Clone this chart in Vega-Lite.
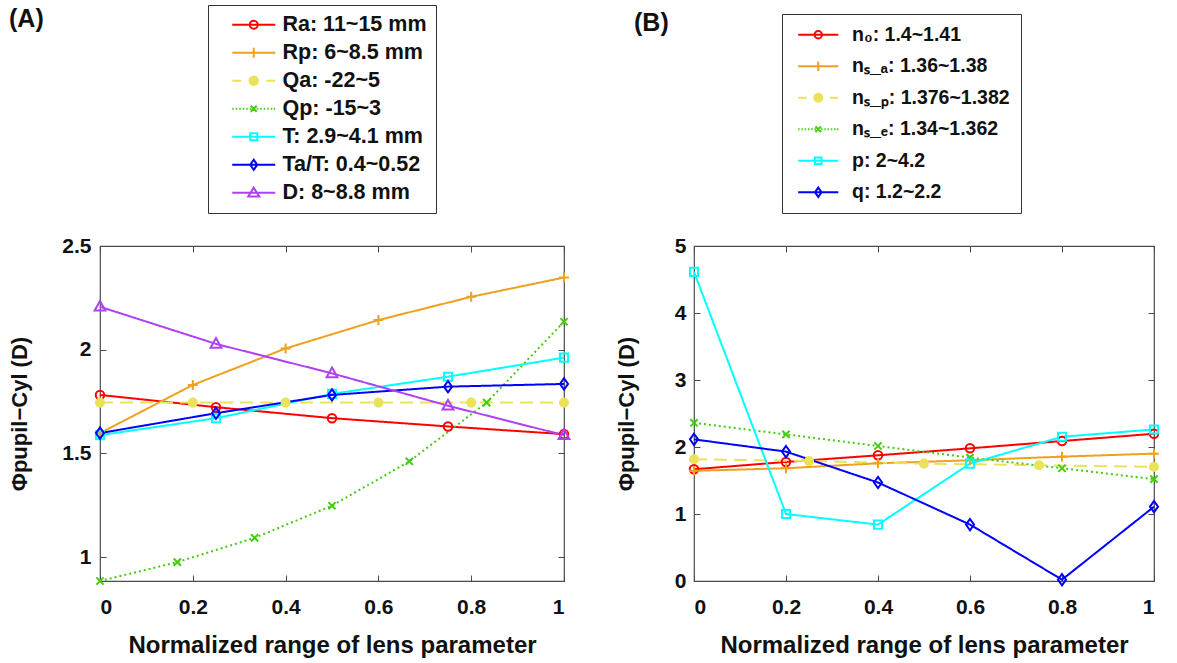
{
  "$schema": "https://vega.github.io/schema/vega-lite/v6.json",
  "background": "white",
  "padding": {"left": 8, "top": 3, "right": 5, "bottom": 5},
  "bounds": "flush",
  "spacing": 130,
  "config": {
    "font": "Liberation Sans",
    "view": {"stroke": "#4a4a4a", "strokeWidth": 1.2},
    "axis": {
      "labelFont": "Liberation Sans", "labelFontWeight": "bold", "labelFontSize": 21, "labelColor": "#111",
      "titleFont": "Liberation Sans", "titleFontWeight": "bold", "titleFontSize": 24, "titleColor": "#111",
      "grid": false, "domain": false, "tickSize": -6, "tickColor": "#4a4a4a", "tickWidth": 1
    }
  },
  "datasets": {
    "pts": [
      {"panel": "A", "series": "Ra: 11~15 mm", "x": 0, "y": 1.782},
      {"panel": "A", "series": "Ra: 11~15 mm", "x": 0.25, "y": 1.723},
      {"panel": "A", "series": "Ra: 11~15 mm", "x": 0.5, "y": 1.670},
      {"panel": "A", "series": "Ra: 11~15 mm", "x": 0.75, "y": 1.630},
      {"panel": "A", "series": "Ra: 11~15 mm", "x": 1, "y": 1.593},
      {"panel": "A", "series": "Rp: 6~8.5 mm", "x": 0, "y": 1.598},
      {"panel": "A", "series": "Rp: 6~8.5 mm", "x": 0.2, "y": 1.830},
      {"panel": "A", "series": "Rp: 6~8.5 mm", "x": 0.4, "y": 2.006},
      {"panel": "A", "series": "Rp: 6~8.5 mm", "x": 0.6, "y": 2.143},
      {"panel": "A", "series": "Rp: 6~8.5 mm", "x": 0.8, "y": 2.255},
      {"panel": "A", "series": "Rp: 6~8.5 mm", "x": 1, "y": 2.348},
      {"panel": "A", "series": "Qa: -22~5", "x": 0, "y": 1.745},
      {"panel": "A", "series": "Qa: -22~5", "x": 0.2, "y": 1.745},
      {"panel": "A", "series": "Qa: -22~5", "x": 0.4, "y": 1.745},
      {"panel": "A", "series": "Qa: -22~5", "x": 0.6, "y": 1.745},
      {"panel": "A", "series": "Qa: -22~5", "x": 0.8, "y": 1.745},
      {"panel": "A", "series": "Qa: -22~5", "x": 1, "y": 1.745},
      {"panel": "A", "series": "Qp: -15~3", "x": 0, "y": 0.885},
      {"panel": "A", "series": "Qp: -15~3", "x": 0.1667, "y": 0.976},
      {"panel": "A", "series": "Qp: -15~3", "x": 0.3333, "y": 1.093},
      {"panel": "A", "series": "Qp: -15~3", "x": 0.5, "y": 1.248},
      {"panel": "A", "series": "Qp: -15~3", "x": 0.6667, "y": 1.462},
      {"panel": "A", "series": "Qp: -15~3", "x": 0.8333, "y": 1.745},
      {"panel": "A", "series": "Qp: -15~3", "x": 1, "y": 2.135},
      {"panel": "A", "series": "T: 2.9~4.1 mm", "x": 0, "y": 1.588},
      {"panel": "A", "series": "T: 2.9~4.1 mm", "x": 0.25, "y": 1.670},
      {"panel": "A", "series": "T: 2.9~4.1 mm", "x": 0.5, "y": 1.787},
      {"panel": "A", "series": "T: 2.9~4.1 mm", "x": 0.75, "y": 1.870},
      {"panel": "A", "series": "T: 2.9~4.1 mm", "x": 1, "y": 1.962},
      {"panel": "A", "series": "Ta/T: 0.4~0.52", "x": 0, "y": 1.598},
      {"panel": "A", "series": "Ta/T: 0.4~0.52", "x": 0.25, "y": 1.694},
      {"panel": "A", "series": "Ta/T: 0.4~0.52", "x": 0.5, "y": 1.782},
      {"panel": "A", "series": "Ta/T: 0.4~0.52", "x": 0.75, "y": 1.822},
      {"panel": "A", "series": "Ta/T: 0.4~0.52", "x": 1, "y": 1.835},
      {"panel": "A", "series": "D: 8~8.8 mm", "x": 0, "y": 2.207},
      {"panel": "A", "series": "D: 8~8.8 mm", "x": 0.25, "y": 2.028},
      {"panel": "A", "series": "D: 8~8.8 mm", "x": 0.5, "y": 1.886},
      {"panel": "A", "series": "D: 8~8.8 mm", "x": 0.75, "y": 1.730},
      {"panel": "A", "series": "D: 8~8.8 mm", "x": 1, "y": 1.588},
      {"panel": "B", "series": "n₀: 1.4~1.41", "x": 0, "y": 1.668},
      {"panel": "B", "series": "n₀: 1.4~1.41", "x": 0.2, "y": 1.777},
      {"panel": "B", "series": "n₀: 1.4~1.41", "x": 0.4, "y": 1.876},
      {"panel": "B", "series": "n₀: 1.4~1.41", "x": 0.6, "y": 1.980},
      {"panel": "B", "series": "n₀: 1.4~1.41", "x": 0.8, "y": 2.089},
      {"panel": "B", "series": "n₀: 1.4~1.41", "x": 1, "y": 2.198},
      {"panel": "B", "series": "nₛ_ₐ: 1.36~1.38", "x": 0, "y": 1.644},
      {"panel": "B", "series": "nₛ_ₐ: 1.36~1.38", "x": 0.2, "y": 1.683},
      {"panel": "B", "series": "nₛ_ₐ: 1.36~1.38", "x": 0.4, "y": 1.757},
      {"panel": "B", "series": "nₛ_ₐ: 1.36~1.38", "x": 0.6, "y": 1.802},
      {"panel": "B", "series": "nₛ_ₐ: 1.36~1.38", "x": 0.8, "y": 1.856},
      {"panel": "B", "series": "nₛ_ₐ: 1.36~1.38", "x": 1, "y": 1.901},
      {"panel": "B", "series": "nₛ_ₚ: 1.376~1.382", "x": 0, "y": 1.817},
      {"panel": "B", "series": "nₛ_ₚ: 1.376~1.382", "x": 0.25, "y": 1.790},
      {"panel": "B", "series": "nₛ_ₚ: 1.376~1.382", "x": 0.5, "y": 1.752},
      {"panel": "B", "series": "nₛ_ₚ: 1.376~1.382", "x": 0.75, "y": 1.728},
      {"panel": "B", "series": "nₛ_ₚ: 1.376~1.382", "x": 1, "y": 1.703},
      {"panel": "B", "series": "nₛ_ₑ: 1.34~1.362", "x": 0, "y": 2.361},
      {"panel": "B", "series": "nₛ_ₑ: 1.34~1.362", "x": 0.2, "y": 2.188},
      {"panel": "B", "series": "nₛ_ₑ: 1.34~1.362", "x": 0.4, "y": 2.015},
      {"panel": "B", "series": "nₛ_ₑ: 1.34~1.362", "x": 0.6, "y": 1.842},
      {"panel": "B", "series": "nₛ_ₑ: 1.34~1.362", "x": 0.8, "y": 1.683},
      {"panel": "B", "series": "nₛ_ₑ: 1.34~1.362", "x": 1, "y": 1.520},
      {"panel": "B", "series": "p: 2~4.2", "x": 0, "y": 4.614},
      {"panel": "B", "series": "p: 2~4.2", "x": 0.2, "y": 1.0},
      {"panel": "B", "series": "p: 2~4.2", "x": 0.4, "y": 0.842},
      {"panel": "B", "series": "p: 2~4.2", "x": 0.6, "y": 1.752},
      {"panel": "B", "series": "p: 2~4.2", "x": 0.8, "y": 2.153},
      {"panel": "B", "series": "p: 2~4.2", "x": 1, "y": 2.262},
      {"panel": "B", "series": "q: 1.2~2.2", "x": 0, "y": 2.114},
      {"panel": "B", "series": "q: 1.2~2.2", "x": 0.2, "y": 1.931},
      {"panel": "B", "series": "q: 1.2~2.2", "x": 0.4, "y": 1.470},
      {"panel": "B", "series": "q: 1.2~2.2", "x": 0.6, "y": 0.842},
      {"panel": "B", "series": "q: 1.2~2.2", "x": 0.8, "y": 0.02},
      {"panel": "B", "series": "q: 1.2~2.2", "x": 1, "y": 1.109}
    ]
  },
  "hconcat": [
    {
      "width": 464, "height": 335,
      "title": {"text": "(A)", "anchor": "start", "frame": "group", "dx": -91, "dy": 31, "fontSize": 25, "font": "Liberation Sans", "fontWeight": "bold", "color": "#111"},
      "data": {"name": "pts"},
      "transform": [{"filter": "datum.panel === 'A'"}],
      "layer": [
        {
          "mark": {"type": "line", "strokeWidth": 2},
          "encoding": {
            "x": {"field": "x", "type": "quantitative", "scale": {"domain": [0, 1], "nice": false},
                  "axis": {"orient": "bottom", "values": [0, 0.2, 0.4, 0.6, 0.8, 1], "format": "~g", "labelPadding": 21, "title": "Normalized range of lens parameter", "titlePadding": 16}},
            "y": {"field": "y", "type": "quantitative", "scale": {"domain": [0.885, 2.5], "nice": false, "zero": false},
                  "axis": {"orient": "left", "values": [1, 1.5, 2, 2.5], "format": "~g", "labelPadding": 15, "title": "Φpupil−Cyl (D)", "titlePadding": 30, "titleFontSize": 22}},
            "stroke": {"field": "series", "type": "nominal", "legend": null,
                       "scale": {"domain": ["Ra: 11~15 mm", "Rp: 6~8.5 mm", "Qa: -22~5", "Qp: -15~3", "T: 2.9~4.1 mm", "Ta/T: 0.4~0.52", "D: 8~8.8 mm"],
                                 "range": ["#FF0000", "#EDA11F", "#EAE35A", "#44CC11", "#00FFFF", "#0000FF", "#B041F2"]}},
            "strokeDash": {"field": "series", "type": "nominal", "legend": null,
                       "scale": {"domain": ["Ra: 11~15 mm", "Rp: 6~8.5 mm", "Qa: -22~5", "Qp: -15~3", "T: 2.9~4.1 mm", "Ta/T: 0.4~0.52", "D: 8~8.8 mm"],
                                 "range": [[1, 0], [1, 0], [13, 7], [2, 3], [1, 0], [1, 0], [1, 0]]}}
          }
        },
        {
          "mark": {"type": "point", "strokeWidth": 2, "opacity": 1, "size": 81},
          "encoding": {
            "x": {"field": "x", "type": "quantitative", "scale": {"domain": [0, 1], "nice": false},
                  "axis": {"orient": "top", "values": [0, 0.2, 0.4, 0.6, 0.8, 1], "labels": false, "title": null}},
            "y": {"field": "y", "type": "quantitative", "scale": {"domain": [0.885, 2.5], "nice": false, "zero": false},
                  "axis": {"orient": "right", "values": [1, 1.5, 2, 2.5], "labels": false, "title": null}},
            "stroke": {"field": "series", "type": "nominal", "legend": null,
                       "scale": {"domain": ["Ra: 11~15 mm", "Rp: 6~8.5 mm", "Qa: -22~5", "Qp: -15~3", "T: 2.9~4.1 mm", "Ta/T: 0.4~0.52", "D: 8~8.8 mm"],
                                 "range": ["#FF0000", "#EDA11F", "#EAE35A", "#44CC11", "#00FFFF", "#0000FF", "#B041F2"]}},
            "fill": {"field": "series", "type": "nominal", "legend": null,
                       "scale": {"domain": ["Ra: 11~15 mm", "Rp: 6~8.5 mm", "Qa: -22~5", "Qp: -15~3", "T: 2.9~4.1 mm", "Ta/T: 0.4~0.52", "D: 8~8.8 mm"],
                                 "range": ["transparent", "transparent", "#EAE35A", "transparent", "transparent", "transparent", "transparent"]}},
            "shape": {"field": "series", "type": "nominal", "legend": null,
                       "scale": {"domain": ["Ra: 11~15 mm", "Rp: 6~8.5 mm", "Qa: -22~5", "Qp: -15~3", "T: 2.9~4.1 mm", "Ta/T: 0.4~0.52", "D: 8~8.8 mm"],
                                 "range": ["M-0.95,0A0.95 0.95 0 1 0 0.95,0A0.95 0.95 0 1 0 -0.95,0", "M-1.1,0H1.1M0,-1.1V1.1", "M-0.9,0A0.9 0.9 0 1 0 0.9,0A0.9 0.9 0 1 0 -0.9,0", "M-0.8,-0.8L0.8,0.8M-0.8,0.8L0.8,-0.8", "M-0.9,-0.9H0.9V0.9H-0.9Z", "M0,-1.25L0.9,0L0,1.25L-0.9,0Z", "M0,-1.3L1.2,0.85H-1.2Z"]}}
          }
        },
        {
          "transform": [{"filter": "datum.x < 0"}],
          "mark": {"type": "point", "strokeWidth": 2, "opacity": 1},
          "encoding": {
            "stroke": {"field": "series", "type": "nominal",
                       "legend": {"orient": "none", "legendX": 108, "legendY": -241, "title": null, "symbolSize": 100, "symbolStrokeWidth": 2, "symbolOffset": 26, "labelOffset": 18, "labelFontSize": 21.5, "labelFont": "Liberation Sans", "labelFontWeight": "bold", "labelColor": "#111", "labelLimit": 400, "rowPadding": 5, "padding": 9, "strokeColor": "#333", "fillColor": "white"},
                       "scale": {"domain": ["Ra: 11~15 mm", "Rp: 6~8.5 mm", "Qa: -22~5", "Qp: -15~3", "T: 2.9~4.1 mm", "Ta/T: 0.4~0.52", "D: 8~8.8 mm"],
                                 "range": ["#FF0000", "#EDA11F", "#EAE35A", "#44CC11", "#00FFFF", "#0000FF", "#B041F2"]}},
            "fill": {"field": "series", "type": "nominal",
                       "legend": {"orient": "none", "legendX": 108, "legendY": -241, "title": null, "symbolSize": 100, "symbolStrokeWidth": 2, "symbolOffset": 26, "labelOffset": 18, "labelFontSize": 21.5, "labelFont": "Liberation Sans", "labelFontWeight": "bold", "labelColor": "#111", "labelLimit": 400, "rowPadding": 5, "padding": 9, "strokeColor": "#333", "fillColor": "white"},
                       "scale": {"domain": ["Ra: 11~15 mm", "Rp: 6~8.5 mm", "Qa: -22~5", "Qp: -15~3", "T: 2.9~4.1 mm", "Ta/T: 0.4~0.52", "D: 8~8.8 mm"],
                                 "range": ["transparent", "transparent", "#EAE35A", "transparent", "transparent", "transparent", "transparent"]}},
            "shape": {"field": "series", "type": "nominal",
                       "legend": {"orient": "none", "legendX": 108, "legendY": -241, "title": null, "symbolSize": 100, "symbolStrokeWidth": 2, "symbolOffset": 26, "labelOffset": 18, "labelFontSize": 21.5, "labelFont": "Liberation Sans", "labelFontWeight": "bold", "labelColor": "#111", "labelLimit": 400, "rowPadding": 5, "padding": 9, "strokeColor": "#333", "fillColor": "white"},
                       "scale": {"domain": ["Ra: 11~15 mm", "Rp: 6~8.5 mm", "Qa: -22~5", "Qp: -15~3", "T: 2.9~4.1 mm", "Ta/T: 0.4~0.52", "D: 8~8.8 mm"],
                                 "range": [
                                   "M-4.3,0H4.3M-0.8,0A0.8 0.8 0 1 0 0.8,0A0.8 0.8 0 1 0 -0.8,0",
                                   "M-4.3,0H4.3M0,-1V1",
                                   "M-4.3,0H-2.5M2.5,0H4.3M-0.85,0A0.85 0.85 0 1 0 0.85,0A0.85 0.85 0 1 0 -0.85,0",
                                   "M-4.3,0H-4M-3.6,0H-3.3M-2.9,0H-2.6M-2.2,0H-1.9M-1.5,0H-1.2M-0.8,0H-0.5M-0.1,0H0.2M0.6,0H0.9M1.3,0H1.6M2,0H2.3M2.7,0H3M3.4,0H3.7M4,0H4.3M-0.6,-0.6L0.6,0.6M-0.6,0.6L0.6,-0.6",
                                   "M-4.3,0H4.3M-0.7,-0.7H0.7V0.7H-0.7Z",
                                   "M-4.3,0H4.3M0,-1L0.7,0L0,1L-0.7,0Z",
                                   "M-4.3,0H4.3M0,-1L1.1,0.75H-1.1Z"
                                 ]}}
          }
        }
      ],
      "resolve": {
        "scale": {"stroke": "independent", "fill": "independent", "shape": "independent", "strokeDash": "independent"},
        "legend": {"stroke": "independent", "fill": "independent", "shape": "independent", "strokeDash": "independent"},
        "axis": {"x": "independent", "y": "independent"}
      }
    },
    {
      "width": 460, "height": 335,
      "title": {"text": "(B)", "anchor": "start", "frame": "group", "dx": -60, "dy": 26, "fontSize": 25, "font": "Liberation Sans", "fontWeight": "bold", "color": "#111"},
      "data": {"name": "pts"},
      "transform": [{"filter": "datum.panel === 'B'"}],
      "layer": [
        {
          "mark": {"type": "line", "strokeWidth": 2},
          "encoding": {
            "x": {"field": "x", "type": "quantitative", "scale": {"domain": [0, 1], "nice": false},
                  "axis": {"orient": "bottom", "values": [0, 0.2, 0.4, 0.6, 0.8, 1], "format": "~g", "labelPadding": 21, "title": "Normalized range of lens parameter", "titlePadding": 16}},
            "y": {"field": "y", "type": "quantitative", "scale": {"domain": [0, 5], "nice": false},
                  "axis": {"orient": "left", "values": [0, 1, 2, 3, 4, 5], "format": "~g", "labelPadding": 14, "title": "Φpupil−Cyl (D)", "titlePadding": 36, "titleFontSize": 22}},
            "stroke": {"field": "series", "type": "nominal", "legend": null,
                       "scale": {"domain": ["n₀: 1.4~1.41", "nₛ_ₐ: 1.36~1.38", "nₛ_ₚ: 1.376~1.382", "nₛ_ₑ: 1.34~1.362", "p: 2~4.2", "q: 1.2~2.2"],
                                 "range": ["#FF0000", "#EDA11F", "#EAE35A", "#44CC11", "#00FFFF", "#0000FF"]}},
            "strokeDash": {"field": "series", "type": "nominal", "legend": null,
                       "scale": {"domain": ["n₀: 1.4~1.41", "nₛ_ₐ: 1.36~1.38", "nₛ_ₚ: 1.376~1.382", "nₛ_ₑ: 1.34~1.362", "p: 2~4.2", "q: 1.2~2.2"],
                                 "range": [[1, 0], [1, 0], [13, 7], [2, 3], [1, 0], [1, 0]]}}
          }
        },
        {
          "mark": {"type": "point", "strokeWidth": 2, "opacity": 1, "size": 81},
          "encoding": {
            "x": {"field": "x", "type": "quantitative", "scale": {"domain": [0, 1], "nice": false},
                  "axis": {"orient": "top", "values": [0, 0.2, 0.4, 0.6, 0.8, 1], "labels": false, "title": null}},
            "y": {"field": "y", "type": "quantitative", "scale": {"domain": [0, 5], "nice": false},
                  "axis": {"orient": "right", "values": [0, 1, 2, 3, 4, 5], "labels": false, "title": null}},
            "stroke": {"field": "series", "type": "nominal", "legend": null,
                       "scale": {"domain": ["n₀: 1.4~1.41", "nₛ_ₐ: 1.36~1.38", "nₛ_ₚ: 1.376~1.382", "nₛ_ₑ: 1.34~1.362", "p: 2~4.2", "q: 1.2~2.2"],
                                 "range": ["#FF0000", "#EDA11F", "#EAE35A", "#44CC11", "#00FFFF", "#0000FF"]}},
            "fill": {"field": "series", "type": "nominal", "legend": null,
                       "scale": {"domain": ["n₀: 1.4~1.41", "nₛ_ₐ: 1.36~1.38", "nₛ_ₚ: 1.376~1.382", "nₛ_ₑ: 1.34~1.362", "p: 2~4.2", "q: 1.2~2.2"],
                                 "range": ["transparent", "transparent", "#EAE35A", "transparent", "transparent", "transparent"]}},
            "shape": {"field": "series", "type": "nominal", "legend": null,
                       "scale": {"domain": ["n₀: 1.4~1.41", "nₛ_ₐ: 1.36~1.38", "nₛ_ₚ: 1.376~1.382", "nₛ_ₑ: 1.34~1.362", "p: 2~4.2", "q: 1.2~2.2"],
                                 "range": ["M-0.95,0A0.95 0.95 0 1 0 0.95,0A0.95 0.95 0 1 0 -0.95,0", "M-1.1,0H1.1M0,-1.1V1.1", "M-0.9,0A0.9 0.9 0 1 0 0.9,0A0.9 0.9 0 1 0 -0.9,0", "M-0.8,-0.8L0.8,0.8M-0.8,0.8L0.8,-0.8", "M-0.9,-0.9H0.9V0.9H-0.9Z", "M0,-1.25L0.9,0L0,1.25L-0.9,0Z"]}}
          }
        },
        {
          "transform": [{"filter": "datum.x < 0"}],
          "mark": {"type": "point", "strokeWidth": 2, "opacity": 1},
          "encoding": {
            "stroke": {"field": "series", "type": "nominal",
                       "legend": {"orient": "none", "legendX": 88, "legendY": -232, "title": null, "symbolSize": 87, "symbolStrokeWidth": 2, "symbolOffset": 15.5, "labelOffset": 24, "labelFontSize": 19.5, "labelFont": "Liberation Sans", "labelFontWeight": "bold", "labelColor": "#111", "labelLimit": 400, "rowPadding": 10.5, "padding": 11, "strokeColor": "#333", "fillColor": "white"},
                       "scale": {"domain": ["n₀: 1.4~1.41", "nₛ_ₐ: 1.36~1.38", "nₛ_ₚ: 1.376~1.382", "nₛ_ₑ: 1.34~1.362", "p: 2~4.2", "q: 1.2~2.2"],
                                 "range": ["#FF0000", "#EDA11F", "#EAE35A", "#44CC11", "#00FFFF", "#0000FF"]}},
            "fill": {"field": "series", "type": "nominal",
                       "legend": {"orient": "none", "legendX": 88, "legendY": -232, "title": null, "symbolSize": 87, "symbolStrokeWidth": 2, "symbolOffset": 15.5, "labelOffset": 24, "labelFontSize": 19.5, "labelFont": "Liberation Sans", "labelFontWeight": "bold", "labelColor": "#111", "labelLimit": 400, "rowPadding": 10.5, "padding": 11, "strokeColor": "#333", "fillColor": "white"},
                       "scale": {"domain": ["n₀: 1.4~1.41", "nₛ_ₐ: 1.36~1.38", "nₛ_ₚ: 1.376~1.382", "nₛ_ₑ: 1.34~1.362", "p: 2~4.2", "q: 1.2~2.2"],
                                 "range": ["transparent", "transparent", "#EAE35A", "transparent", "transparent", "transparent"]}},
            "shape": {"field": "series", "type": "nominal",
                       "legend": {"orient": "none", "legendX": 88, "legendY": -232, "title": null, "symbolSize": 87, "symbolStrokeWidth": 2, "symbolOffset": 15.5, "labelOffset": 24, "labelFontSize": 19.5, "labelFont": "Liberation Sans", "labelFontWeight": "bold", "labelColor": "#111", "labelLimit": 400, "rowPadding": 10.5, "padding": 11, "strokeColor": "#333", "fillColor": "white"},
                       "scale": {"domain": ["n₀: 1.4~1.41", "nₛ_ₐ: 1.36~1.38", "nₛ_ₚ: 1.376~1.382", "nₛ_ₑ: 1.34~1.362", "p: 2~4.2", "q: 1.2~2.2"],
                                 "range": [
                                   "M-4.3,0H4.3M-0.8,0A0.8 0.8 0 1 0 0.8,0A0.8 0.8 0 1 0 -0.8,0",
                                   "M-4.3,0H4.3M0,-1V1",
                                   "M-4.3,0H-2.5M2.5,0H4.3M-0.85,0A0.85 0.85 0 1 0 0.85,0A0.85 0.85 0 1 0 -0.85,0",
                                   "M-4.3,0H-4M-3.6,0H-3.3M-2.9,0H-2.6M-2.2,0H-1.9M-1.5,0H-1.2M-0.8,0H-0.5M-0.1,0H0.2M0.6,0H0.9M1.3,0H1.6M2,0H2.3M2.7,0H3M3.4,0H3.7M4,0H4.3M-0.6,-0.6L0.6,0.6M-0.6,0.6L0.6,-0.6",
                                   "M-4.3,0H4.3M-0.7,-0.7H0.7V0.7H-0.7Z",
                                   "M-4.3,0H4.3M0,-1L0.7,0L0,1L-0.7,0Z"
                                 ]}}
          }
        }
      ],
      "resolve": {
        "scale": {"stroke": "independent", "fill": "independent", "shape": "independent", "strokeDash": "independent"},
        "legend": {"stroke": "independent", "fill": "independent", "shape": "independent", "strokeDash": "independent"},
        "axis": {"x": "independent", "y": "independent"}
      }
    }
  ]
}
